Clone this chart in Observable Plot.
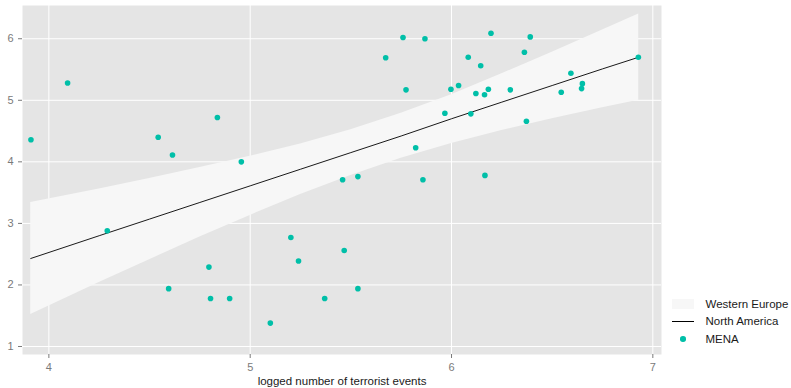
<!DOCTYPE html>
<html>
<head>
<meta charset="utf-8">
<script src="https://cdn.jsdelivr.net/npm/d3@7"></script>
<script src="https://cdn.jsdelivr.net/npm/@observablehq/plot@0.6"></script>
<style>
  html, body { margin: 0; padding: 0; background: #fff; }
  #wrap { position: relative; width: 791px; height: 388px; font-family: "Liberation Sans", Arial, sans-serif; }
  #legend { position: absolute; left: 672px; top: 295px; font-size: 11.5px; color: #1a1a1a; }
  .row { display: flex; align-items: center; height: 17.5px; }
  .key { width: 22px; height: 17.5px; margin-right: 11.5px; display: flex; align-items: center; justify-content: center; }
</style>
</head>
<body>
<div id="wrap"></div>
<script>
// MENA points (logged number of terrorist events vs. outcome)
const menaX = [3.911, 4.093, 4.543, 4.614, 4.837, 4.956,
  5.759, 5.868, 6.196, 5.673, 6.083, 6.145, 5.774, 5.997, 6.035, 6.121, 6.183, 6.164, 6.292,
  5.967, 6.096, 5.822, 5.459, 5.535, 5.858, 6.166,
  6.391, 6.362, 6.593, 6.650, 6.646, 6.545, 6.372, 6.928,
  4.290, 4.795, 4.595, 4.803, 4.898,
  5.202, 5.467, 5.240, 5.535, 5.370, 5.100];
const menaY = [4.36, 5.28, 4.40, 4.11, 4.72, 4.00,
  6.02, 6.00, 6.09, 5.69, 5.70, 5.56, 5.17, 5.18, 5.24, 5.11, 5.18, 5.09, 5.17,
  4.79, 4.78, 4.23, 3.71, 3.76, 3.71, 3.78,
  6.03, 5.78, 5.44, 5.27, 5.19, 5.13, 4.66, 5.70,
  2.88, 2.29, 1.94, 1.78, 1.78,
  2.77, 2.56, 2.39, 1.94, 1.78, 1.38];

// North America line and Western Europe band, read at these x positions
const fitX = [3.91, 4.25, 4.5, 4.75, 5.0, 5.25, 5.5, 5.75, 6.0, 6.25, 6.5, 6.75, 6.93];
const northAmerica = [2.43, 2.80, 3.07, 3.34, 3.61, 3.88, 4.15, 4.42, 4.70, 4.97, 5.24, 5.51, 5.70];
const westernEuropeLow = [1.52, 2.04, 2.41, 2.78, 3.13, 3.47, 3.78, 4.06, 4.30, 4.51, 4.70, 4.88, 5.00];
const westernEuropeHigh = [3.34, 3.56, 3.73, 3.91, 4.09, 4.29, 4.52, 4.79, 5.09, 5.43, 5.78, 6.14, 6.40];

const xTicks = [4, 5, 6, 7];
const yTicks = [1, 2, 3, 4, 5, 6];
const seriesNames = ["Western Europe", "North America", "MENA"];
const xTitle = "logged number of terrorist events";

const colors = { band: "#f7f7f7", line: "#000000", dot: "#00bfa8", panel: "#e5e5e5", axis: "#7a7a7a" };

const mena = menaX.map((x, i) => ({ x, y: menaY[i] }));
const fit = fitX.map((x, i) => ({ x, y: northAmerica[i], lo: westernEuropeLow[i], hi: westernEuropeHigh[i] }));
const intFmt = d => String(d);

const chart = Plot.plot({
  width: 791,
  height: 388,
  marginLeft: 22,
  marginRight: 130,
  marginTop: 5,
  marginBottom: 34,
  style: { fontFamily: "'Liberation Sans', Arial, sans-serif", background: "transparent" },
  x: { domain: [3.869, 7.043] },
  y: { domain: [0.87, 6.54] },
  marks: [
    Plot.frame({ fill: colors.panel, stroke: null }),
    Plot.gridX(xTicks, { stroke: "#fff", strokeOpacity: 1, strokeWidth: 1 }),
    Plot.gridY(yTicks, { stroke: "#fff", strokeOpacity: 1, strokeWidth: 1 }),
    Plot.areaY(fit, { x: "x", y1: "lo", y2: "hi", fill: colors.band, fillOpacity: 1 }),
    Plot.line(fit, { x: "x", y: "y", stroke: colors.line, strokeWidth: 0.9 }),
    Plot.dot(mena, { x: "x", y: "y", r: 2.8, fill: colors.dot, stroke: null }),
    Plot.axisY(yTicks, { tickSize: 4, tickPadding: 5, fontSize: 11, color: colors.axis, label: null, tickFormat: intFmt }),
    Plot.axisX(xTicks, { tickSize: 4, tickPadding: 5, fontSize: 11, color: colors.axis, label: null, tickFormat: intFmt }),
    Plot.axisX({ ticks: [], tickSize: 0, label: xTitle, labelAnchor: "center", labelArrow: "none", labelOffset: 30, fontSize: 11.5, color: "#1a1a1a" })
  ]
});

const wrap = document.getElementById("wrap");
wrap.appendChild(chart);

// Legend (HTML, to the right of the panel)
const legend = document.createElement("div");
legend.id = "legend";
const keys = [
  `<span style="display:inline-block;width:22px;height:10px;background:${colors.band}"></span>`,
  `<span style="display:inline-block;width:22px;height:1px;background:${colors.line}"></span>`,
  `<span style="display:inline-block;width:5.6px;height:5.6px;border-radius:50%;background:${colors.dot}"></span>`
];
legend.innerHTML = seriesNames.map((name, i) =>
  `<div class="row"><span class="key">${keys[i]}</span><span>${name}</span></div>`).join("");
wrap.appendChild(legend);
</script>
</body>
</html>
